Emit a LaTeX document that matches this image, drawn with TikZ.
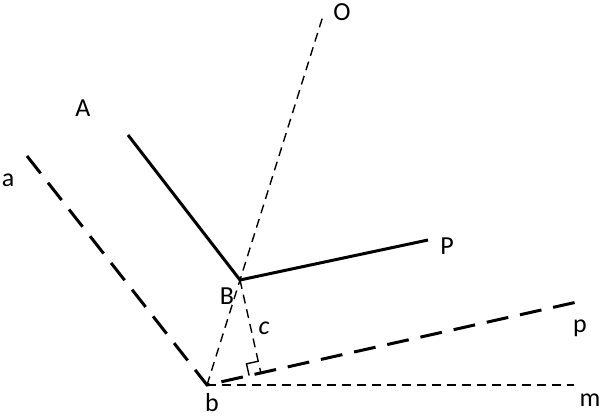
\documentclass[tikz,border=0pt]{standalone}
\usepackage{fontspec}
\setmainfont{Carlito}
\usetikzlibrary{positioning,calc}
\tikzstyle{pixelPlane} = [x = 0.5pt, y = -0.5pt]
\tikzstyle{rayLine} = [line width = 1.5pt]
\tikzstyle{traceLine} = [line width = 1.5pt, dash pattern = on 11pt off 6pt]
\tikzstyle{helpLine} = [line width = 0.7pt, dash pattern = on 4.5pt off 3pt]
\tikzstyle{squareLine} = [line width = 0.7pt]
\tikzstyle{pointLabel} = [font = \fontsize{13}{15}\selectfont, inner sep = 0pt]

\begin{document}
\begin{tikzpicture}[pixelPlane]
  \useasboundingbox (0,0) rectangle (600,417);
  % points
  \coordinate (vertexB) at (240,280);
  \coordinate (vertexb) at (207,385);
  \coordinate (endA) at (128,135);
  \coordinate (endP) at (428,240);
  \coordinate (enda) at (27,156);
  \coordinate (endp) at (577,302);
  \coordinate (endm) at (574,385);
  \coordinate (endO) at ($(vertexb)!3.5!(vertexB)$);
  \coordinate (footc) at ($(vertexb)!(vertexB)!(endp)$);
  % lines
  \draw [rayLine] (endA) -- (vertexB) -- (endP);
  \draw [traceLine] (enda) -- (vertexb) -- (endp);
  \draw [helpLine] (vertexb) -- (endO);
  \draw [helpLine] (vertexb) -- (endm);
  \draw [helpLine] (vertexB) -- (footc);
  % right angle
  \coordinate (cornerOne) at ($(footc)!6pt!(vertexb)$);
  \coordinate (cornerTwo) at ($(footc)!6pt!(vertexB)$);
  \draw [squareLine] (cornerOne) -- ($(cornerOne)+(cornerTwo)-(footc)$) -- (cornerTwo);
  % labels
  \node [pointLabel] (labelA) at (83,108) {A};
  \node [pointLabel] (labela) at (8,180) {a};
  \node [pointLabel] (labelO) at (342,12) {O};
  \node [pointLabel] (labelP) at (447,246) {P};
  \node [pointLabel] (labelB) at (227,296) {B};
  \node [pointLabel] (labelc) at (264,328) {\itshape c};
  \node [pointLabel] (labelp) at (580,328) {p};
  \node [pointLabel] (labelm) at (590,400) {m};
  \node [pointLabel] (labelb) at (212,403) {b};
\end{tikzpicture}
\end{document}
